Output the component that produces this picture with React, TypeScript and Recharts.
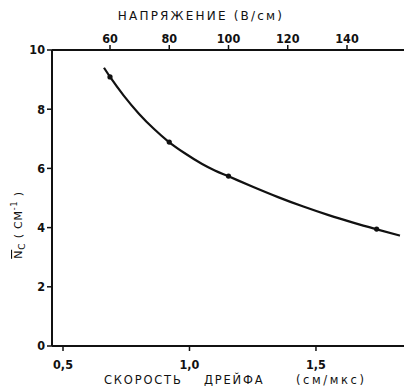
import React from "react";
import {
  ComposedChart,
  Line,
  Scatter,
  XAxis,
  YAxis,
} from "recharts";

// measured points: applied field (V/cm) and mean Nc (1/cm)
const measuredField = [60, 80, 100, 150];
const measuredNc = [9.09, 6.89, 5.74, 3.95];

// smooth curve drawn against drift velocity (cm/us)
const curveVelocity = [
  0.662, 0.686, 0.74, 0.8, 0.86, 0.919, 0.98, 1.05, 1.1, 1.152, 1.25, 1.35,
  1.45, 1.55, 1.65, 1.737, 1.832,
];
const curveNc = [
  9.4, 9.09, 8.46, 7.85, 7.33, 6.89, 6.52, 6.15, 5.93, 5.74, 5.38, 5.03, 4.71,
  4.42, 4.16, 3.95, 3.73,
];

const velocityTicks = [0.5, 1.0, 1.5];
const fieldTicks = [60, 80, 100, 120, 140];
const ncTicks = [0, 2, 4, 6, 8, 10];

const measured = measuredField.map((e, i) => ({ e, n: measuredNc[i] }));
const curve = curveVelocity.map((v, i) => ({ v, n: curveNc[i] }));

const INK = "#111";
const tickFont = {
  fill: INK,
  fontSize: 12.5,
  fontWeight: 700,
  fontFamily: "'DejaVu Sans Condensed', 'DejaVu Sans', sans-serif",
};
const titleFont = "'DejaVu Sans', sans-serif";

const fmtComma = (v: number) => v.toFixed(1).replace(".", ",");

function BottomTitle() {
  return (
    <text
      y={384}
      fill={INK}
      fontSize={11.5}
      fontFamily={titleFont}
      letterSpacing={1.8}
    >
      <tspan x={104}>СКОРОСТЬ</tspan>
      <tspan x={204}>ДРЕЙФА</tspan>
      <tspan x={296} letterSpacing={2.6}>(см/мкс)</tspan>
    </text>
  );
}

function TopTitle() {
  return (
    <text
      x={201}
      y={20}
      textAnchor="middle"
      fill={INK}
      fontSize={12}
      fontFamily={titleFont}
      letterSpacing={2.2}
    >
      НАПРЯЖЕНИЕ (В/см)
    </text>
  );
}

function YTitle() {
  return (
    <text
      transform="translate(22, 225) rotate(-90)"
      textAnchor="middle"
      fill={INK}
      fontSize={11}
      fontFamily={titleFont}
      letterSpacing={0.8}
    >
      <tspan textDecoration="overline">N</tspan>
      <tspan fontSize={9} dy={3}>C</tspan>
      <tspan dy={-3}> ( CM</tspan>
      <tspan fontSize={8} dy={-5}>-1</tspan>
      <tspan dy={5}> )</tspan>
    </text>
  );
}

export default function App() {
  return (
    <div style={{ position: "absolute", left: 0, top: 0, background: "#fff" }}>
      <ComposedChart
        width={404}
        height={391}
        margin={{ top: 0, right: 0, bottom: 0, left: 0 }}
      >
        <XAxis
          xAxisId="bottom"
          dataKey="v"
          type="number"
          orientation="bottom"
          domain={[0.4565, 1.848]}
          ticks={velocityTicks}
          tickFormatter={fmtComma}
          allowDataOverflow
          height={45}
          axisLine={{ stroke: INK, strokeWidth: 2 }}
          tickLine={{ stroke: INK, strokeWidth: 1.5 }}
          tickSize={5}
          tickMargin={9}
          tick={tickFont}
          label={<BottomTitle />}
        />
        <XAxis
          xAxisId="top"
          dataKey="e"
          type="number"
          orientation="top"
          domain={[40.42, 159.24]}
          ticks={fieldTicks}
          allowDataOverflow
          height={50}
          axisLine={{ stroke: INK, strokeWidth: 2 }}
          tickLine={{ stroke: INK, strokeWidth: 1.5 }}
          tickSize={5}
          tickMargin={2}
          tick={tickFont}
          label={<TopTitle />}
        />
        <YAxis
          yAxisId="left"
          dataKey="n"
          type="number"
          domain={[0, 10]}
          ticks={ncTicks}
          allowDataOverflow
          width={52}
          axisLine={{ stroke: INK, strokeWidth: 2 }}
          tickLine={{ stroke: INK, strokeWidth: 1.5 }}
          tickSize={5}
          tickMargin={2}
          tick={tickFont}
          label={<YTitle />}
        />
        <Line
          xAxisId="bottom"
          yAxisId="left"
          data={curve}
          dataKey="n"
          type="monotone"
          stroke={INK}
          strokeWidth={2.2}
          dot={false}
          isAnimationActive={false}
        />
        <Scatter
          xAxisId="top"
          yAxisId="left"
          data={measured}
          dataKey="n"
          fill={INK}
          shape={(p: any) => <circle cx={p.cx} cy={p.cy} r={2.6} fill={INK} />}
          isAnimationActive={false}
        />
      </ComposedChart>
    </div>
  );
}
